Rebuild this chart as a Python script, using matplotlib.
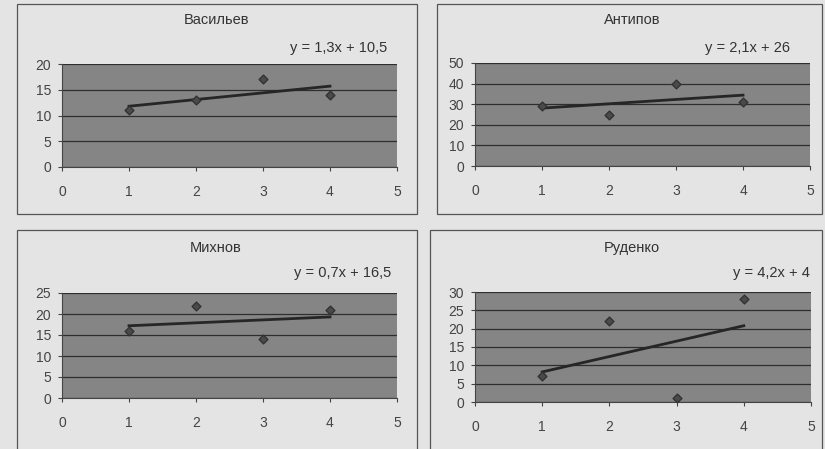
import numpy as np
import matplotlib
matplotlib.use("Agg")
import matplotlib.pyplot as plt
from matplotlib.patches import Rectangle

plt.rcParams['font.family'] = ['Liberation Sans', 'DejaVu Sans']

W, H = 825, 449

names = ["Васильев", "Антипов", "Михнов", "Руденко"]
x_vals = [1, 2, 3, 4]
vasiliev = [11, 13, 17, 14]
antipov = [29, 25, 40, 31]
mikhnov = [16, 22, 14, 21]
rudenko = [7, 22, 1, 28]
series = [vasiliev, antipov, mikhnov, rudenko]
y_max = [20, 50, 25, 30]
y_step = [5, 10, 5, 5]

# pixel layout: plot areas (left, top, right, bottom), frames, title/eq positions
plot_px = [(62, 64, 397, 167), (475, 63, 810, 166),
           (62, 293, 397, 398), (475, 292, 811, 402)]
frame_px = [(17, 4, 417, 214), (437, 4, 822, 214),
            (17, 230, 417, 452), (430, 230, 822, 452)]
title_px = [(216, 20), (632, 20), (216, 248), (632, 248)]
eq_px = [(387, 48), (790, 48), (391, 273), (810, 273)]

fig = plt.figure(figsize=(W / 100, H / 100), dpi=100)
fig.patch.set_facecolor("#e4e4e4")

for i in range(4):
    # frame around each chart
    l, t, r, b = frame_px[i]
    fig.patches.append(Rectangle((l / W, 1 - b / H), (r - l) / W, (b - t) / H,
                                 transform=fig.transFigure, fill=False,
                                 edgecolor="#555555", linewidth=0.9))

    l, t, r, b = plot_px[i]
    ax = fig.add_axes([l / W, 1 - b / H, (r - l) / W, (b - t) / H])
    ax.set_facecolor("#858585")

    y = series[i]
    k, c = np.polyfit(x_vals, y, 1)
    xs = np.array([x_vals[0], x_vals[-1]])
    ax.plot(xs, k * xs + c, color="#262626", linewidth=2, zorder=3)
    ax.scatter(x_vals, y, marker="D", s=20, color="#4a4a4a",
               edgecolors="#333333", zorder=4)

    ax.set_xlim(0, 5)
    ax.set_ylim(0, y_max[i])
    ax.set_xticks(range(0, 6))
    ax.set_yticks(np.arange(0, y_max[i] + 1, y_step[i]))
    ax.grid(axis="y", color="#2e2e2e", linewidth=0.9)
    ax.set_axisbelow(True)
    for s in ["top", "right"]:
        ax.spines[s].set_visible(False)
    for s in ["left", "bottom"]:
        ax.spines[s].set_color("#444444")
    ax.tick_params(labelsize=10, colors="#444444", length=3, pad=5)
    ax.tick_params(axis="x", pad=10)

    tx, ty = title_px[i]
    fig.text(tx / W, 1 - ty / H, names[i], ha="center", va="center",
             fontsize=10.5, color="#333333")
    ex, ey = eq_px[i]
    eq = f"y = {k:.1f}x + {c:g}".replace(".", ",")
    fig.text(ex / W, 1 - ey / H, eq, ha="right", va="center",
             fontsize=10.5, color="#333333")

fig.savefig("out.png", dpi=100, facecolor=fig.get_facecolor())
